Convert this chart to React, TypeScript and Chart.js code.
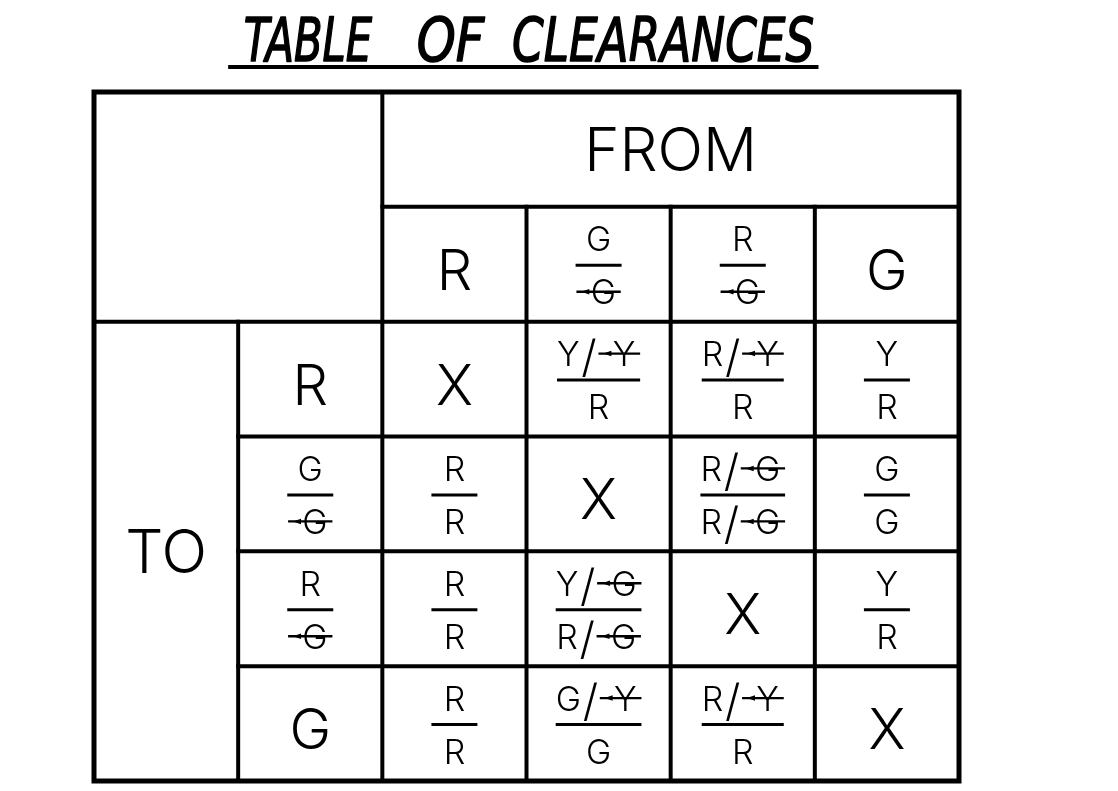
import React, { useEffect, useRef } from "react";
import { Chart, registerables } from "chart.js";

Chart.register(...registerables);

// ---- data ----
const titleText = "TABLE OF CLEARANCES";
const fromLabel = "FROM";
const toLabel = "TO";
// "|" separates numerator / denominator, "~X" is a struck (flashing) letter
const fromHeaders = ["R", "G|~G", "R|~G", "G"];
const toHeaders = ["R", "G|~G", "R|~G", "G"];
const rowR = ["X", "Y/~Y|R", "R/~Y|R", "Y|R"];
const rowGG = ["R|R", "X", "R/~G|R/~G", "G|G"];
const rowRG = ["R|R", "Y/~G|R/~G", "X", "Y|R"];
const rowG = ["R|R", "G/~Y|G", "R/~Y|R", "X"];
const bodyRows = [rowR, rowGG, rowRG, rowG];

const FAMILY = '"Inter", "Open Sans", Roboto, "DejaVu Sans", sans-serif';
const WEIGHT = 300;

type Seg = { t: string; kind: "plain" | "struck" | "slash" };

function parse(str: string): Seg[] {
  const segs: Seg[] = [];
  for (let i = 0; i < str.length; i++) {
    if (str[i] === "~") {
      segs.push({ t: str[i + 1], kind: "struck" });
      i++;
    } else if (str[i] === "/") {
      segs.push({ t: "/", kind: "slash" });
    } else {
      segs.push({ t: str[i], kind: "plain" });
    }
  }
  return segs;
}

function setFont(ctx: CanvasRenderingContext2D, size: number) {
  ctx.font = `${WEIGHT} ${size}px ${FAMILY}`;
}

function capOf(ctx: CanvasRenderingContext2D) {
  ctx.textBaseline = "alphabetic";
  return ctx.measureText("H").actualBoundingBoxAscent;
}

function segWidth(ctx: CanvasRenderingContext2D, seg: Seg, size: number) {
  if (seg.kind === "slash") {
    ctx.font = `${WEIGHT} ${size * 1.3}px ${FAMILY}`;
    const w = ctx.measureText("/").width;
    setFont(ctx, size);
    return w + size * 0.1;
  }
  const m = ctx.measureText(seg.t).width;
  if (seg.kind === "struck") return m + size * 0.42 + size * 0.14;
  return m;
}

function richWidth(ctx: CanvasRenderingContext2D, str: string, size: number) {
  setFont(ctx, size);
  let w = 0;
  for (const seg of parse(str)) w += segWidth(ctx, seg, size);
  return w;
}

function drawRich(ctx: CanvasRenderingContext2D, str: string, cx: number, base: number, size: number) {
  setFont(ctx, size);
  ctx.textAlign = "left";
  const cap = capOf(ctx);
  const total = richWidth(ctx, str, size);
  let cur = cx - total / 2;
  for (const seg of parse(str)) {
    const w = segWidth(ctx, seg, size);
    if (seg.kind === "struck") {
      const lext = size * 0.42;
      const ly = base - cap / 2;
      ctx.lineWidth = 2.4;
      ctx.beginPath();
      ctx.moveTo(cur, ly);
      ctx.lineTo(cur + w, ly);
      ctx.stroke();
      // small arrowhead pointing left
      ctx.beginPath();
      ctx.moveTo(cur + size * 0.14, ly);
      ctx.lineTo(cur + size * 0.38, ly - size * 0.08);
      ctx.lineTo(cur + size * 0.38, ly + size * 0.08);
      ctx.closePath();
      ctx.fill();
      ctx.fillText(seg.t, cur + lext, base);
    } else if (seg.kind === "slash") {
      ctx.font = `${WEIGHT} ${size * 1.3}px ${FAMILY}`;
      ctx.fillText("/", cur + size * 0.05, base + size * 0.16);
      setFont(ctx, size);
    } else {
      ctx.fillText(seg.t, cur, base);
    }
    cur += w;
  }
}

function drawCell(ctx: CanvasRenderingContext2D, str: string, cx: number, cy: number) {
  if (str.includes("|")) {
    const [top, bot] = str.split("|");
    const size = 34;
    setFont(ctx, size);
    const cap = capOf(ctx);
    const barY = cy + 1;
    const w = Math.max(46, richWidth(ctx, top, size), richWidth(ctx, bot, size));
    ctx.lineWidth = 3;
    ctx.lineCap = "butt";
    ctx.beginPath();
    ctx.moveTo(cx - w / 2, barY);
    ctx.lineTo(cx + w / 2, barY);
    ctx.stroke();
    drawRich(ctx, top, cx, barY - 14, size);
    drawRich(ctx, bot, cx, barY + 14 + cap, size);
  } else {
    const size = 56;
    setFont(ctx, size);
    const cap = capOf(ctx);
    ctx.textAlign = "center";
    ctx.fillText(str, cx, cy + cap / 2 + 5);
  }
}

const tablePlugin = {
  id: "clearanceTable",
  afterDraw(chart: any) {
    const ctx: CanvasRenderingContext2D = chart.ctx;
    const xs = chart.scales.x;
    const ys = chart.scales.y;
    const X = (v: number) => xs.getPixelForValue(v);
    const Y = (v: number) => ys.getPixelForValue(v);
    ctx.save();
    ctx.strokeStyle = "#000";
    ctx.fillStyle = "#000";

    const seg = (x1: number, y1: number, x2: number, y2: number, w: number) => {
      ctx.lineWidth = w;
      ctx.lineCap = "square";
      ctx.beginPath();
      ctx.moveTo(X(x1), Y(y1));
      ctx.lineTo(X(x2), Y(y2));
      ctx.stroke();
    };

    // inner grid
    seg(2, 0, 2, 6, 4);
    seg(2, 1, 6, 1, 4);
    seg(0, 2, 6, 2, 4);
    seg(1, 2, 1, 6, 4);
    [3, 4, 5].forEach((c) => seg(c, 1, c, 6, 4));
    [3, 4, 5].forEach((r) => seg(1, r, 6, r, 4));
    // outer border
    ctx.lineWidth = 5;
    ctx.strokeRect(X(0), Y(0), X(6) - X(0), Y(6) - Y(0));

    // FROM / TO
    setFont(ctx, 60);
    const capBig = capOf(ctx);
    ctx.textAlign = "center";
    ctx.fillText(fromLabel, X(4), Y(0.5) + capBig / 2);
    ctx.fillText(toLabel, X(0.5), Y(4) + capBig / 2);

    // headers
    fromHeaders.forEach((h, i) => drawCell(ctx, h, X(2.5 + i), Y(1.5)));
    toHeaders.forEach((h, i) => drawCell(ctx, h, X(1.5), Y(2.5 + i)));
    // body
    bodyRows.forEach((row, r) =>
      row.forEach((c, i) => drawCell(ctx, c, X(2.5 + i), Y(2.5 + r)))
    );

    // title: words placed individually (CAD style wide word spacing)
    const words = titleText.split(" ");
    const wordLeft = [X(1) + 7, X(2) + 36, X(3) - 13];
    const wordInk = [127, 67, 300];
    const base = Y(0) - 31;
    ctx.font = `italic 60px "DejaVu Sans", sans-serif`;
    ctx.textAlign = "left";
    ctx.textBaseline = "alphabetic";
    ctx.lineJoin = "round";
    words.forEach((wd, i) => {
      const tm = ctx.measureText(wd);
      const ink = tm.actualBoundingBoxLeft + tm.actualBoundingBoxRight;
      const sx = wordInk[i] / ink;
      ctx.save();
      ctx.translate(wordLeft[i], base);
      ctx.scale(sx, 1);
      ctx.lineWidth = 1.6;
      ctx.fillText(wd, tm.actualBoundingBoxLeft, 0);
      ctx.strokeText(wd, tm.actualBoundingBoxLeft, 0);
      ctx.restore();
    });
    ctx.lineWidth = 4;
    ctx.lineCap = "butt";
    ctx.beginPath();
    ctx.moveTo(wordLeft[0] - 17, Y(0) - 25);
    ctx.lineTo(wordLeft[2] + wordInk[2] + 5, Y(0) - 25);
    ctx.stroke();

    ctx.restore();
  },
};

export default function App() {
  const ref = useRef<HTMLCanvasElement | null>(null);
  useEffect(() => {
    if (!ref.current) return;
    const chart = new Chart(ref.current, {
      type: "scatter",
      data: { datasets: [{ data: [], pointRadius: 0 }] },
      options: {
        animation: false,
        responsive: false,
        devicePixelRatio: 1,
        layout: { padding: { left: 94, right: 159, top: 92, bottom: 10 } },
        plugins: { legend: { display: false }, tooltip: { enabled: false }, title: { display: false } },
        scales: {
          x: { type: "linear", min: 0, max: 6, display: false },
          y: { type: "linear", min: 0, max: 6, reverse: true, display: false },
        },
      },
      plugins: [tablePlugin],
    });
    return () => chart.destroy();
  }, []);
  return (
    <div style={{ position: "fixed", left: 0, top: 0, width: 1118, height: 791, background: "#fff" }}>
      <canvas ref={ref} width={1118} height={791} style={{ display: "block" }} />
    </div>
  );
}
